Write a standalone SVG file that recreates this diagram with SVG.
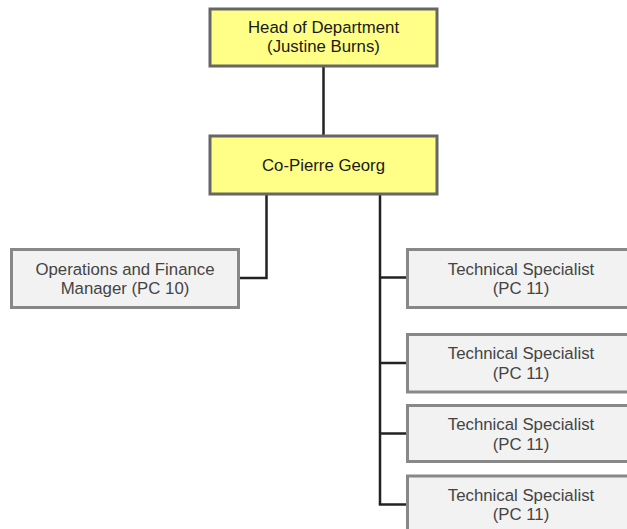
<svg xmlns="http://www.w3.org/2000/svg" width="627" height="529" viewBox="0 0 627 529">
<style>
.box{stroke:#666;stroke-width:3}
.y{fill:#ffff88}
.g{fill:#f2f2f2;stroke:#888}
text{font-family:"Liberation Sans",Arial,sans-serif;font-size:16.8px;text-anchor:middle}
.ty{fill:#1a1a1a}
.tg{fill:#444}
.conn{fill:none;stroke:#222;stroke-width:2.5}
</style>
<rect width="627" height="529" fill="#fff"/>
<g id="connectors">
<path class="conn" d="M323.5 66V136"/>
<path class="conn" d="M266.5 194V278H239"/>
<path class="conn" d="M380 194V504.5"/>
<path class="conn" d="M380 277.5H407"/>
<path class="conn" d="M380 363H407"/>
<path class="conn" d="M380 433.5H407"/>
<path class="conn" d="M378.8 504.5H407"/>
</g>
<g id="head">
<rect class="box y" x="210" y="9" width="227" height="57"/>
<text class="ty" x="323.5" y="33">Head of Department</text>
<text class="ty" x="323.5" y="52">(Justine Burns)</text>
</g>
<g id="copierre">
<rect class="box y" x="210" y="136" width="227" height="58"/>
<text class="ty" x="323.5" y="171">Co-Pierre Georg</text>
</g>
<g id="opsfin">
<rect class="box g" x="11.5" y="249.5" width="227" height="58"/>
<text class="tg" x="125" y="274.5">Operations and Finance</text>
<text class="tg" x="125" y="293.5">Manager (PC 10)</text>
</g>
<g id="tech1">
<rect class="box g" x="407.5" y="249.5" width="227" height="58"/>
<text class="tg" x="521" y="274.5">Technical Specialist</text>
<text class="tg" x="521" y="293.5">(PC 11)</text>
</g>
<g id="tech2">
<rect class="box g" x="407.5" y="334.5" width="227" height="57.5"/>
<text class="tg" x="521" y="359">Technical Specialist</text>
<text class="tg" x="521" y="378.5">(PC 11)</text>
</g>
<g id="tech3">
<rect class="box g" x="407.5" y="405.5" width="227" height="56"/>
<text class="tg" x="521" y="429.5">Technical Specialist</text>
<text class="tg" x="521" y="449.5">(PC 11)</text>
</g>
<g id="tech4">
<rect class="box g" x="407.5" y="476" width="227" height="58"/>
<text class="tg" x="521" y="500.5">Technical Specialist</text>
<text class="tg" x="521" y="520">(PC 11)</text>
</g>
</svg>
